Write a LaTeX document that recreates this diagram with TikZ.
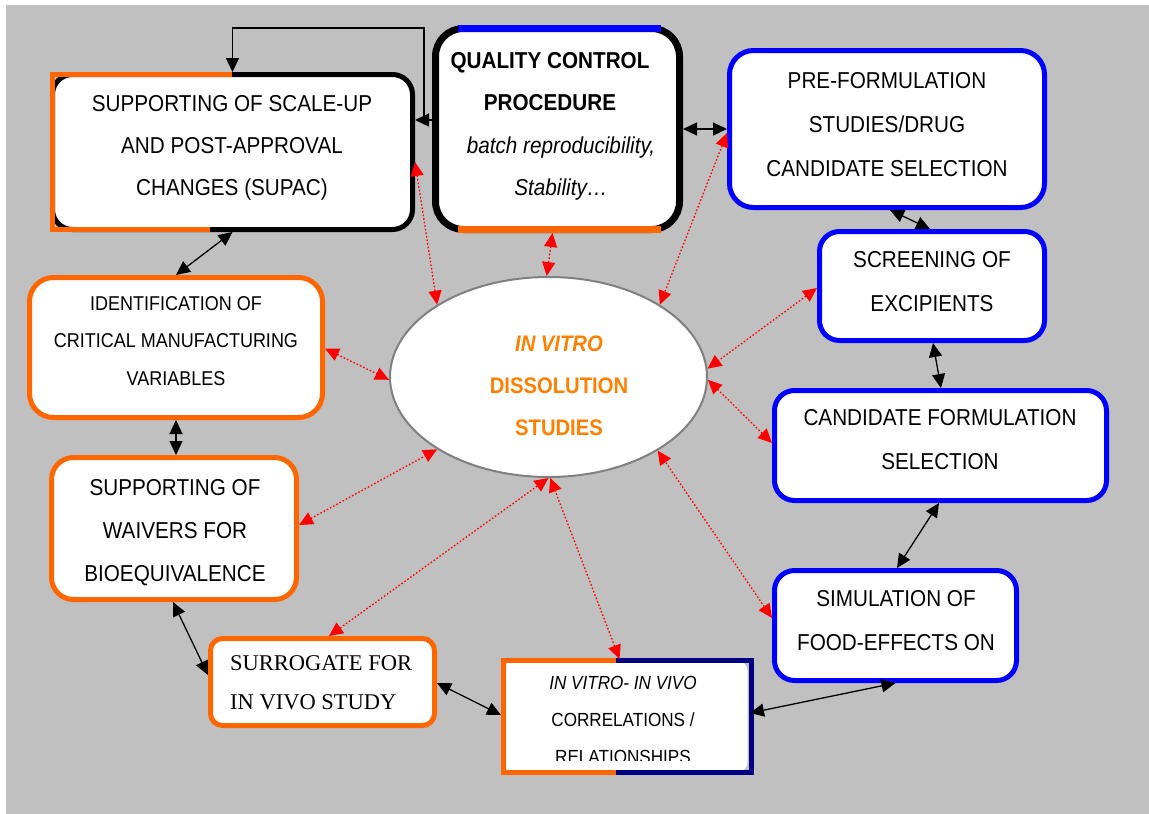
\documentclass[tikz,border=0pt]{standalone}
\usepackage{fontspec}
\setmainfont{Liberation Sans}[FakeStretch=0.9]
\newfontfamily\timesfont{Liberation Serif}
\usetikzlibrary{arrows.meta,shapes.geometric,calc}

\definecolor{panelgray}{RGB}{192,192,192}
\definecolor{orng}{RGB}{255,102,0}
\definecolor{blu}{RGB}{0,0,255}
\definecolor{navyblue}{RGB}{0,0,128}
\definecolor{titleorange}{RGB}{255,128,0}
\definecolor{rimgray}{RGB}{128,128,128}

% invisible rule giving every text line the same height and depth
\newcommand\lnstrut{\rule[-0.25em]{0pt}{1.05em}}

\tikzset{
  box/.style={rectangle, fill=white, inner sep=0pt, line width=5pt},
  lbl/.style={align=center, inner sep=0pt, font=\fontsize{23}{42}\selectfont},
  arrone/.style={line width=1.3pt, -{Triangle[length=14pt,width=13pt]}},
  arrtwo/.style={line width=1.3pt, {Triangle[length=14pt,width=13pt]}-{Triangle[length=14pt,width=13pt]}},
  redarr/.style={red, line width=1.3pt, dash pattern=on 1.6pt off 2pt,
    {Triangle[length=14pt,width=13pt]}-{Triangle[length=14pt,width=13pt]}},
}

\begin{document}
\begin{tikzpicture}[x=1pt,y=-1pt]
\useasboundingbox (0,0) rectangle (1149,814);
\fill[white] (0,0) rectangle (1149,814);
\fill[panelgray] (6,5) rectangle (1149,814);

% ---- boxes ----
\node[box, draw=black, rounded corners=20pt, minimum width=360pt, minimum height=155pt] (supac) at (232.5,152) {};
\draw[orng, line width=5pt] (232,74.5) -- (52.5,74.5) -- (52.5,229.5) -- (210,229.5);

\node[box, draw=black, line width=7pt, rounded corners=28pt, minimum width=244pt, minimum height=201pt] (qc) at (557.5,129) {};
\draw[blu, line width=7pt] (458,28.5) -- (661,28.5);
\draw[orng, line width=7pt] (458,229.5) -- (661,229.5);

\node[box, draw=blu, rounded corners=24pt, minimum width=315pt, minimum height=157pt] (pre) at (887,129) {};
\node[box, draw=blu, rounded corners=20pt, minimum width=225pt, minimum height=109pt] (screen) at (932,286) {};
\node[box, draw=blu, rounded corners=20pt, minimum width=332pt, minimum height=110pt] (cand) at (940.5,445.5) {};
\node[box, draw=blu, rounded corners=20pt, minimum width=242pt, minimum height=110pt] (sim) at (895.5,625.5) {};

\node[box, rounded corners=9pt, outer sep=2.5pt, minimum width=244pt, minimum height=110pt] (ivivc) at (625.5,716.5) {};
\draw[orng, line width=5pt] (616,660.5) -- (503.5,660.5) -- (503.5,772.5) -- (616,772.5);
\draw[navyblue, line width=5pt] (616,660.5) -- (751,660.5) -- (751,772.5) -- (616,772.5);

\node[box, draw=orng, rounded corners=12pt, minimum width=224pt, minimum height=87pt] (surr) at (322.5,682) {};
\node[box, draw=orng, rounded corners=24pt, minimum width=293pt, minimum height=140pt] (ident) at (176,347.5) {};
\node[box, draw=orng, rounded corners=22pt, minimum width=245pt, minimum height=142pt] (waiv) at (174,528.5) {};

\node[ellipse, draw=rimgray, line width=2pt, fill=white, inner sep=0pt,
      minimum width=317pt, minimum height=200pt] (ell) at (548.5,377) {};

% ---- texts ----
\node[lbl] (supac-t) at (232,147) {\lnstrut SUPPORTING OF SCALE-UP\\\lnstrut AND POST-APPROVAL\\\lnstrut CHANGES (SUPAC)};
\node[lbl, font=\fontsize{23}{42}\selectfont\bfseries] (qc-t) at (550,83) {\lnstrut QUALITY CONTROL\\\lnstrut PROCEDURE};
\node[lbl, font=\fontsize{23}{42}\selectfont\itshape] (qc-s) at (561,168) {\lnstrut batch reproducibility,\\\lnstrut Stability…};
\node[lbl, font=\fontsize{23}{44}\selectfont] (pre-t) at (887,126) {\lnstrut PRE-FORMULATION\\\lnstrut STUDIES/DRUG\\\lnstrut CANDIDATE SELECTION};
\node[lbl, font=\fontsize{23}{44}\selectfont] (screen-t) at (932,283) {\lnstrut SCREENING OF\\\lnstrut EXCIPIENTS};
\node[lbl, font=\fontsize{23}{44}\selectfont] (cand-t) at (940,441) {\lnstrut CANDIDATE FORMULATION\\\lnstrut SELECTION};
\node[lbl, font=\fontsize{23}{44}\selectfont] (sim-t) at (896,622) {\lnstrut SIMULATION OF\\\lnstrut FOOD-EFFECTS ON};
\node[lbl, font=\fontsize{23}{43}\selectfont] (waiv-t) at (175,532) {\lnstrut SUPPORTING OF\\\lnstrut WAIVERS FOR\\\lnstrut BIOEQUIVALENCE};
\node[lbl, font=\fontsize{20}{37.5}\selectfont] (ident-t) at (176,342) {\lnstrut IDENTIFICATION OF\\\lnstrut CRITICAL MANUFACTURING\\\lnstrut VARIABLES};
\node[lbl, align=left, anchor=west, font=\timesfont\fontsize{22.5}{39}\selectfont] (surr-t) at (230,684) {\lnstrut SURROGATE FOR\\\lnstrut IN VIVO STUDY};
\begin{scope}
  \clip (495,655) rectangle (760,760);
  \node[lbl, font=\fontsize{19}{37}\selectfont] (ivivc-t) at (623,721.5) {\lnstrut\textit{IN VITRO- IN VIVO}\\\lnstrut CORRELATIONS /\\\lnstrut RELATIONSHIPS};
\end{scope}
\node[lbl, text=titleorange, font=\fontsize{22.5}{42}\selectfont\bfseries] (ell-t) at (559,387) {\lnstrut\textit{IN VITRO}\\\lnstrut DISSOLUTION\\\lnstrut STUDIES};

% ---- black connectors ----
\coordinate (loopstart) at (424,120);
\coordinate (looptop) at (424,28);
\draw[arrone] ([yshift=9pt]qc.west) -- ([yshift=32pt]supac.east);
\draw[arrone] (loopstart) -- (looptop) -| (supac.north);
\draw[arrtwo] (qc.east) -- (pre.west);
\draw[arrtwo] ([xshift=3pt]pre.south) -- ([xshift=-2pt]screen.north);
\draw[arrtwo] ([xshift=1pt]screen.south) -- ([xshift=0.5pt]cand.north);
\draw[arrtwo] ([xshift=-1.5pt]cand.south) -- ([xshift=1.5pt]sim.north);
\draw[arrtwo] (sim.south) -- ([yshift=3.5pt]ivivc.east);
\draw[arrtwo] ([yshift=-1pt]surr.east) -- ([yshift=1.5pt]ivivc.west);
\draw[arrtwo] ([xshift=-1pt]waiv.south) -- ([yshift=7pt]surr.west);
\draw[arrtwo] (ident.south) -- (ident.south |- waiv.north);
\draw[arrtwo] (supac.south) -- (ident.north);

% ---- red dotted links to the centre ----
\draw[redarr] ([yshift=-10pt]supac.east) -- (ell.147);
\draw[redarr] ([xshift=-5pt]qc.south) -- (ell.91);
\draw[redarr] ([yshift=-4pt]pre.west) -- (ell.33);
\draw[redarr] ([yshift=-2pt]screen.west) -- (ell.3);
\draw[redarr] ([yshift=2.5pt]cand.west) -- (ell.-1);
\draw[redarr] ([yshift=7.5pt]sim.west) -- (ell.-34);
\draw[redarr] ([xshift=-6pt]ivivc.north) -- (ell.-89.5);
\draw[redarr] ([xshift=6.5pt]surr.north) -- (ell.-90.5);
\draw[redarr] ([yshift=3.5pt]waiv.east) -- (ell.-147);
\draw[redarr] ([yshift=-1pt]ident.east) -- (ell.181);
\end{tikzpicture}
\end{document}
